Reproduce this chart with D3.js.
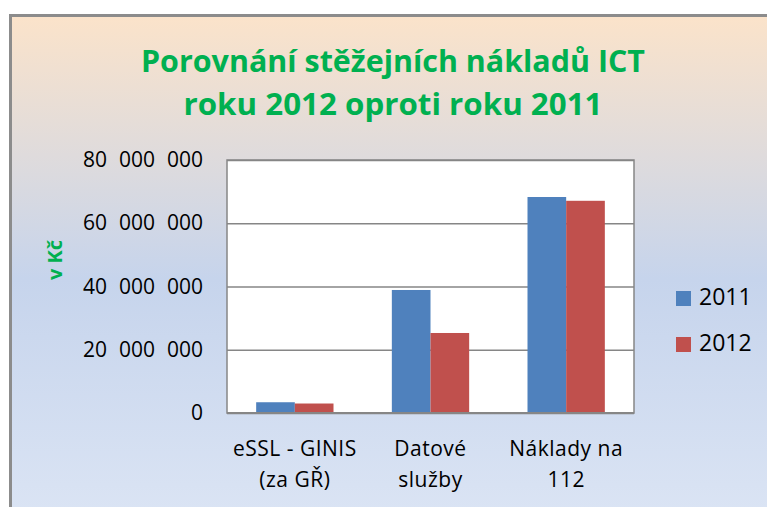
<!DOCTYPE html>
<html>
<head>
<meta charset="utf-8">
<script src="https://cdn.jsdelivr.net/npm/d3@7"></script>
<style>
  body { margin: 0; background: #fff; }
  text { font-family: "Open Sans", sans-serif; }
</style>
</head>
<body>
<div id="chart"></div>
<script>
// values (Kč)
const categories = ["eSSL - GINIS|(za GŘ)", "Datové|služby", "Náklady na|112"];
const values2011 = [3400000, 38900000, 68300000];
const values2012 = [3000000, 25300000, 67100000];
const series = ["2011", "2012"];
const yTicks = [0, 20000000, 40000000, 60000000, 80000000];
const titleLines = ["Porovnání stěžejních nákladů ICT", "roku 2012 oproti roku 2011"];

const WIDTH = 767, HEIGHT = 507;
const LEFT = 227, RIGHT = 634, TOP = 160, BOTTOM = 413;
const colors = {"2011": "#4f81bd", "2012": "#c0504d"};

const svg = d3.select("#chart").append("svg").attr("width", WIDTH).attr("height", HEIGHT)

// background gradient + frame
const grad = svg.append("defs").append("linearGradient").attr("id", "bg")
  .attr("x1", 0).attr("y1", 0).attr("x2", 0).attr("y2", 1)
grad.append("stop").attr("offset", "0%").attr("stop-color", "#fbe3ca")
grad.append("stop").attr("offset", "50%").attr("stop-color", "#c6d4ec")
grad.append("stop").attr("offset", "100%").attr("stop-color", "#dde6f5")
svg.append("rect").attr("x", 10.5).attr("y", 15.5).attr("width", WIDTH + 20).attr("height", HEIGHT + 20)
  .attr("fill", "url(#bg)").attr("stroke", "#8c8c8c").attr("stroke-width", 3)

// title
titleLines.forEach((t, i) => {
  svg.append("text").attr("x", 393).attr("y", 72 + i * 43).attr("text-anchor", "middle")
    .attr("font-size", 31).attr("font-weight", "bold").attr("fill", "#00b050")
    .attr("textLength", i == 0 ? 504 : 419).attr("lengthAdjust", "spacingAndGlyphs")
    .text(t)
})

// scales
const y = d3.scaleLinear().domain([0, 80000000]).range([BOTTOM, TOP])
const x0 = d3.scaleBand().domain(categories).range([LEFT, RIGHT]).paddingInner(0.43).paddingOuter(0.215)
const x1 = d3.scaleBand().domain(series).range([0, x0.bandwidth()])

// plot area
svg.append("rect").attr("x", LEFT).attr("y", TOP).attr("width", RIGHT - LEFT).attr("height", BOTTOM - TOP)
  .attr("fill", "#fff").attr("stroke", "#868686").attr("stroke-width", 1.5)

// gridlines
svg.append("g").attr("transform", "translate(" + LEFT + ",0)")
  .call(d3.axisLeft(y).tickValues(yTicks).tickSize(-(RIGHT - LEFT)).tickFormat(""))
  .call(g => g.select(".domain").remove())
  .call(g => g.selectAll("line").attr("stroke", "#868686").attr("stroke-width", 1.5))

// tick labels
const fmt = d => d3.format(",")(d).replace(/,/g, "\u2007")
svg.append("g").attr("transform", "translate(" + LEFT + ",0)")
  .call(d3.axisLeft(y).tickValues(yTicks).tickSize(0).tickPadding(24).tickFormat(fmt))
  .call(g => g.select(".domain").remove())
  .call(g => g.selectAll("text").attr("font-family", "Open Sans").attr("font-size", 21).attr("fill", "#000"))

// bars
const rows = categories.map((c, i) => ({cat: c, vals: [{s: "2011", v: values2011[i]}, {s: "2012", v: values2012[i]}]}))
const grp = svg.selectAll("g.grp").data(rows).enter().append("g").attr("class", "grp")
  .attr("transform", d => "translate(" + x0(d.cat) + ",0)")
grp.selectAll("rect").data(d => d.vals).enter().append("rect")
  .attr("x", d => x1(d.s)).attr("y", d => y(d.v))
  .attr("width", x1.bandwidth()).attr("height", d => y(0) - y(d.v))
  .attr("fill", d => colors[d.s])

// x axis line
svg.append("line").attr("x1", LEFT).attr("x2", RIGHT).attr("y1", BOTTOM).attr("y2", BOTTOM)
  .attr("stroke", "#868686").attr("stroke-width", 2)

// category labels
categories.forEach(c => {
  c.split("|").forEach((line, j) => {
    svg.append("text").attr("x", x0(c) + x0.bandwidth() / 2).attr("y", 456 + j * 31)
      .attr("text-anchor", "middle").attr("font-size", 21).attr("letter-spacing", "0.5px")
      .attr("fill", "#000").text(line)
  })
})

// y axis title
svg.append("text").attr("transform", "translate(62,260) rotate(-90)").attr("text-anchor", "middle")
  .attr("font-size", 20).attr("font-weight", "bold").attr("fill", "#00b050").text("v Kč")

// legend
const legend = svg.append("g").attr("transform", "translate(676,291)")
series.forEach((s, i) => {
  const row = legend.append("g").attr("transform", "translate(0," + (i * 46) + ")")
  row.append("rect").attr("width", 15).attr("height", 15).attr("fill", colors[s])
  row.append("text").attr("x", 23).attr("y", 14).attr("font-size", 23).attr("fill", "#000").text(s)
})
</script>
</body>
</html>
